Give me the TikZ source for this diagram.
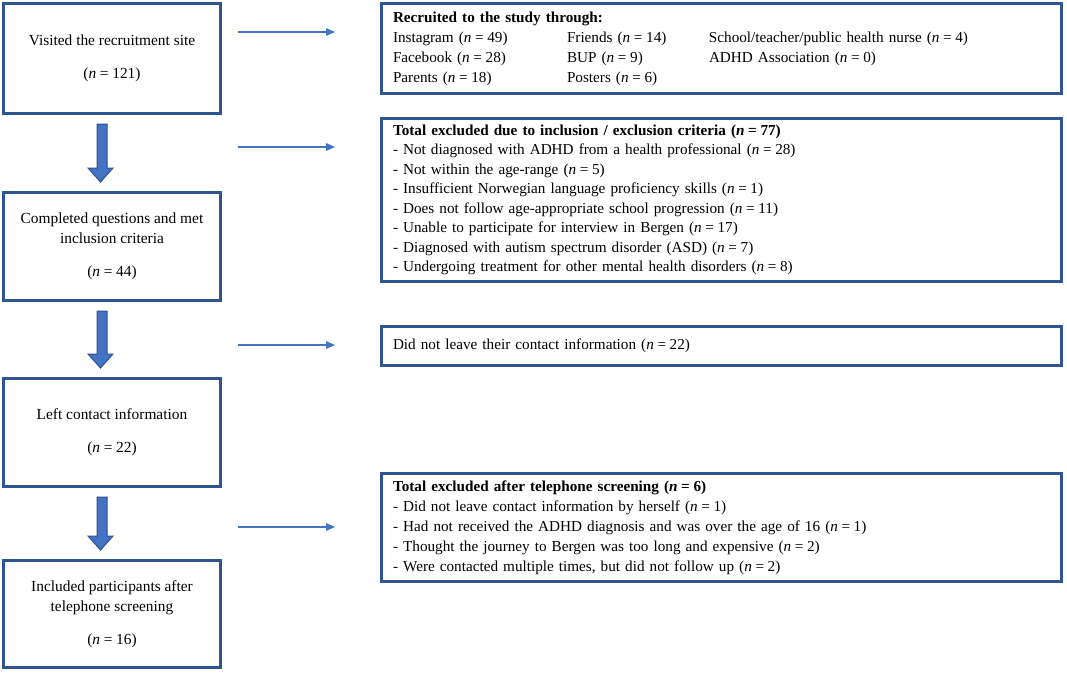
\documentclass[tikz,border=0pt]{standalone}
\usepackage{fontspec}
\setmainfont{Liberation Serif}
\usetikzlibrary{calc,arrows.meta}
\definecolor{bord}{HTML}{2F5496}
\definecolor{afill}{HTML}{4472C4}
\definecolor{aline}{HTML}{2F528F}
\newcommand\nval[1]{(\textit{n}\hspace{0.24em}=\hspace{0.24em}#1)}
\newcommand\blockarr[2]{%
  \filldraw[barrow] ($(#1.south)+(-15,9)$) -- ($(#1.south)+(-5,9)$)
    -- ($(#2.north)+(-5,-23)$) -- ($(#2.north)+(1,-23)$)
    -- ($(#2.north)+(-11.5,-9)$) -- ($(#2.north)+(-24,-23)$)
    -- ($(#2.north)+(-15,-23)$) -- cycle;}
\begin{document}
\begin{tikzpicture}[x=1pt,y=-1pt,
  lbox/.style={draw=bord, line width=3pt, minimum width=217pt, align=center,
    inner sep=0pt, font=\fontsize{15.4}{20}\selectfont},
  rbox/.style={draw=bord, line width=3pt, minimum width=680pt, text width=657pt,
    inner xsep=11.5pt, inner ysep=0pt, align=left},
  barrow/.style={fill=afill, draw=aline, line width=1pt},
  tarrow/.style={draw=afill, line width=1.4pt, -{Triangle[length=9pt,width=7.5pt]}}]
\useasboundingbox (0,0) rectangle (1067,673);
\fill[white] (0,0) rectangle (1067,673);

% left column
\node[lbox, minimum height=110pt] (b1) at (112,58.5)
  {Visited the recruitment site\\[13pt]\nval{121}};
\node[lbox, minimum height=108pt] (b2) at (112,246.5)
  {Completed questions and met\\inclusion criteria\\[13pt]\nval{44}};
\node[lbox, minimum height=108pt] (b3) at (112,432.5)
  {Left contact information\\[13pt]\nval{22}};
\node[lbox, minimum height=107pt] (b4) at (112,614)
  {Included participants after\\telephone screening\\[13pt]\nval{16}};

\blockarr{b1}{b2}
\blockarr{b2}{b3}
\blockarr{b3}{b4}

% right column
\node[rbox, minimum height=90pt, font=\fontsize{15.2}{20}\selectfont] (r1) at (721.5,48.5)
  {\textbf{Recruited to the study through:}\\
   \makebox[174pt][l]{Instagram \nval{49}}\makebox[142pt][l]{Friends \nval{14}}School/teacher/public health nurse \nval{4}\\
   \makebox[174pt][l]{Facebook \nval{28}}\makebox[142pt][l]{BUP \nval{9}}ADHD Association \nval{0}\\
   \makebox[174pt][l]{Parents \nval{18}}\makebox[142pt][l]{Posters \nval{6}}};
\node[rbox, minimum height=163pt, font=\fontsize{15.2}{19.5}\selectfont] (r2) at (721.5,200)
  {\textbf{Total excluded due to inclusion / exclusion criteria \nval{77}}\\
   - Not diagnosed with ADHD from a health professional \nval{28}\\
   - Not within the age-range \nval{5}\\
   - Insufficient Norwegian language proficiency skills \nval{1}\\
   - Does not follow age-appropriate school progression \nval{11}\\
   - Unable to participate for interview in Bergen \nval{17}\\
   - Diagnosed with autism spectrum disorder (ASD) \nval{7}\\
   - Undergoing treatment for other mental health disorders \nval{8}};
\node[rbox, minimum height=39pt, font=\fontsize{15.2}{20}\selectfont] (r3) at (721.5,346)
  {Did not leave their contact information \nval{22}};
\node[rbox, minimum height=108pt, font=\fontsize{15.2}{20}\selectfont] (r4) at (721.5,527.5)
  {\textbf{Total excluded after telephone screening \nval{6}}\\
   - Did not leave contact information by herself \nval{1}\\
   - Had not received the ADHD diagnosis and was over the age of 16 \nval{1}\\
   - Thought the journey to Bergen was too long and expensive \nval{2}\\
   - Were contacted multiple times, but did not follow up \nval{2}};

% thin arrows
\coordinate (t1s) at (238,32);  \coordinate (t1e) at (335,32);
\coordinate (t2s) at (238,147); \coordinate (t2e) at (335,147);
\coordinate (t3s) at (238,345); \coordinate (t3e) at (335,345);
\coordinate (t4s) at (238,527); \coordinate (t4e) at (335,527);
\draw[tarrow] (t1s) -- (t1e);
\draw[tarrow] (t2s) -- (t2e);
\draw[tarrow] (t3s) -- (t3e);
\draw[tarrow] (t4s) -- (t4e);
\end{tikzpicture}
\end{document}
